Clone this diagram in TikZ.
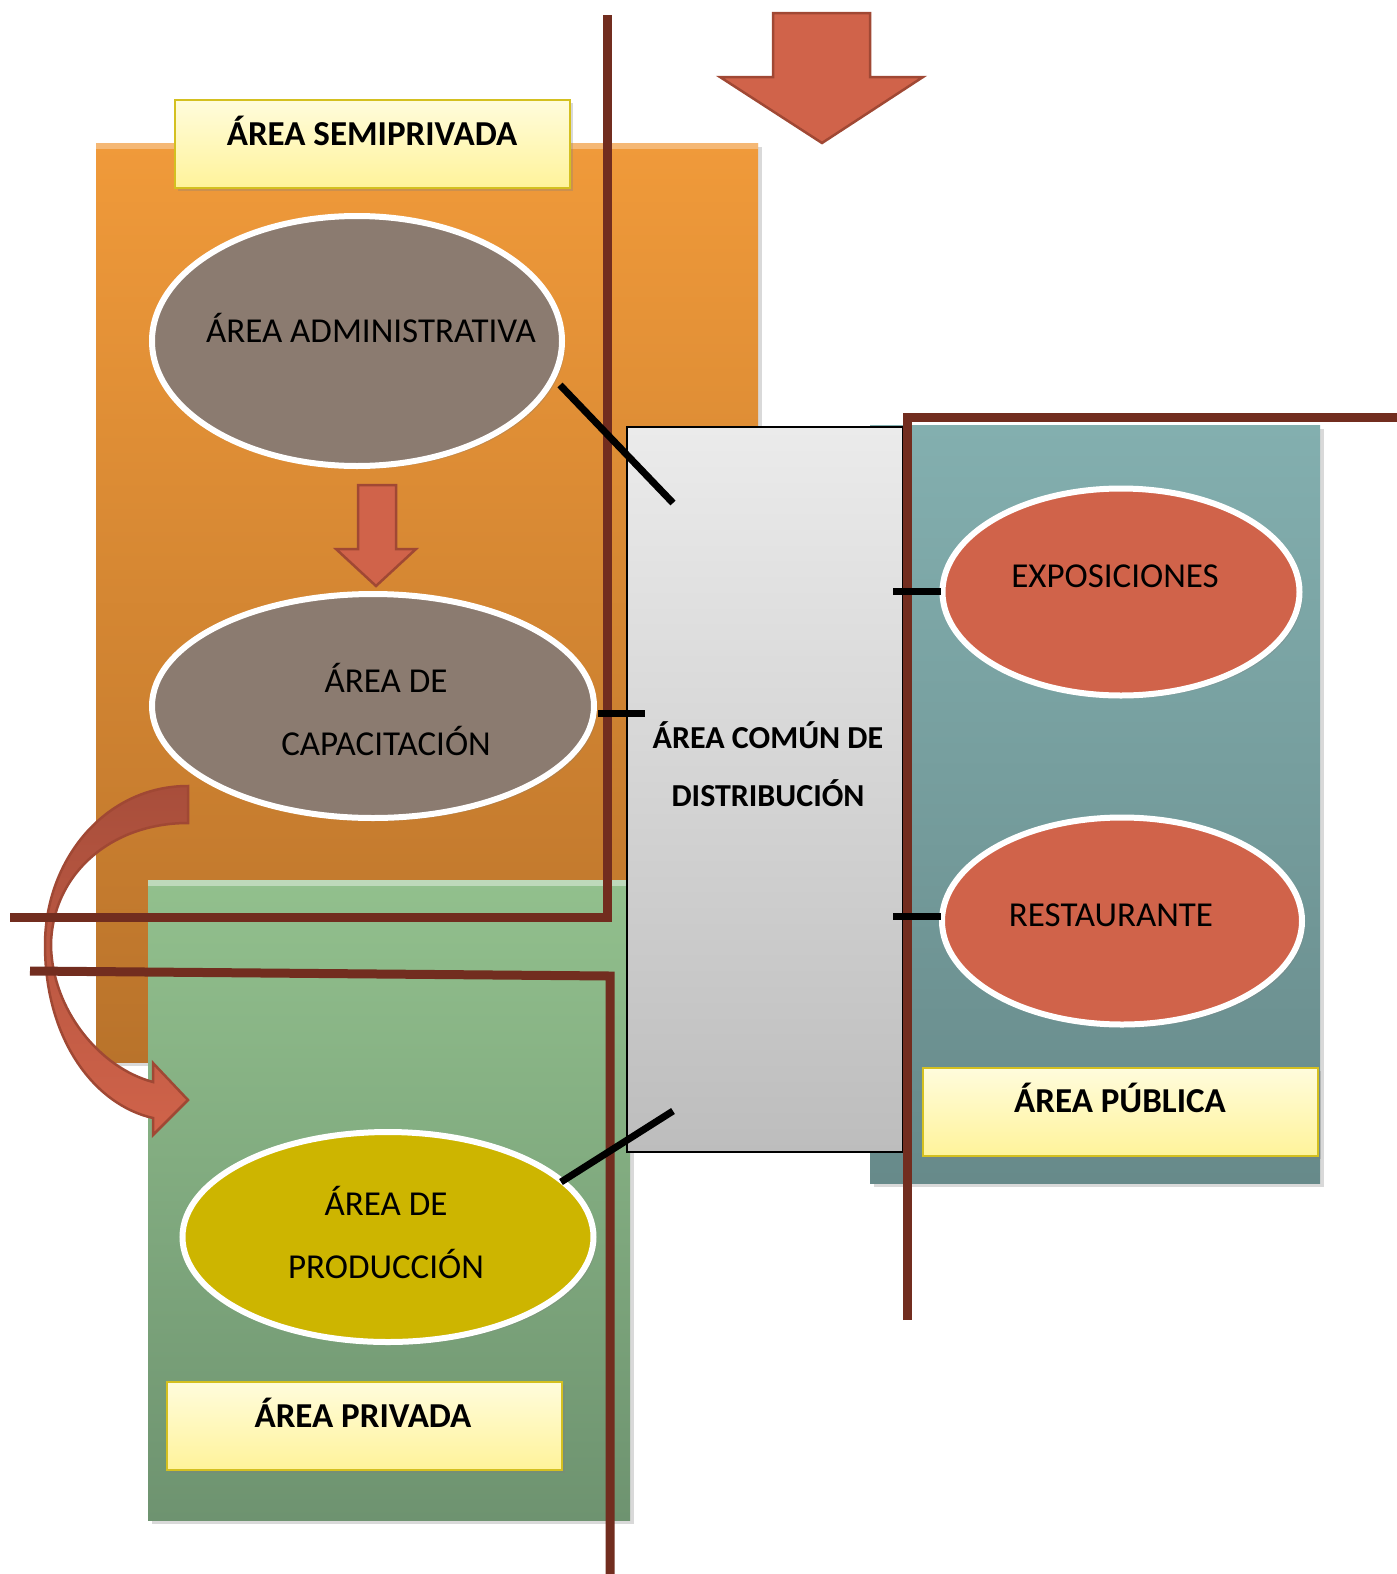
\documentclass[tikz,border=0pt]{standalone}
\usepackage{fontspec}
\setmainfont{Carlito}
\usetikzlibrary{shapes.geometric,shadows}
\definecolor{orTop}{HTML}{F09A3A}
\definecolor{orBot}{HTML}{B9732B}
\definecolor{grTop}{HTML}{92C08D}
\definecolor{grBot}{HTML}{6E9370}
\definecolor{tlTop}{HTML}{83AFAF}
\definecolor{tlBot}{HTML}{678A8A}
\definecolor{gyTop}{HTML}{EBEBEB}
\definecolor{gyBot}{HTML}{BDBDBD}
\definecolor{lbTop}{HTML}{FFFCDC}
\definecolor{lbBot}{HTML}{FFF39A}
\definecolor{lbBorder}{HTML}{D4C020}
\definecolor{elBrown}{HTML}{8B7B70}
\definecolor{elRed}{HTML}{D0634A}
\definecolor{elYellow}{HTML}{CDB500}
\definecolor{wallBrown}{HTML}{722D1F}
\definecolor{arrFill}{HTML}{D0634A}
\definecolor{arrTop}{HTML}{A84E3B}
\definecolor{arrBorder}{HTML}{A04834}
\begin{document}
\begin{tikzpicture}[x=1pt,y=-1pt,
  zone/.style={rectangle,inner sep=0pt,outer sep=0pt,
    drop shadow={shadow xshift=4pt,shadow yshift=-4pt,opacity=0.3}},
  labelbox/.style={rectangle,inner sep=0pt,outer sep=0pt,draw=lbBorder,line width=2pt,
    top color=lbTop,bottom color=lbBot,minimum width=395,minimum height=88,
    drop shadow={shadow xshift=3pt,shadow yshift=-3pt,opacity=0.3}},
  oval/.style={ellipse,inner sep=0pt,outer sep=0pt,draw=white,line width=6pt,
    drop shadow={shadow xshift=3pt,shadow yshift=-3pt,opacity=0.3}},
  txt/.style={inner sep=0pt,anchor=base,font=\fontsize{35}{40}\selectfont},
  btxt/.style={inner sep=0pt,anchor=base,font=\fontsize{35}{40}\selectfont\bfseries},
  ctxt/.style={inner sep=0pt,anchor=base,font=\fontsize{32}{37}\selectfont\bfseries},
  wall/.style={draw=wallBrown,line width=9pt,line join=miter},
  conn/.style={draw=black,line width=7pt},
  blockarrow/.style={fill=arrFill,draw=arrBorder,line width=2.5pt,line join=miter}
]
\useasboundingbox (0,0) rectangle (1397,1574);

% zones
\node[zone,top color=orTop,bottom color=orBot,minimum width=662,minimum height=919] (orange) at (427,602.5) {};
\fill[orTop!70!white] (orange.north west) rectangle ([yshift=-6pt]orange.north east);
\node[zone,top color=grTop,bottom color=grBot,minimum width=482,minimum height=640] (green) at (389,1200) {};
\fill[grTop!60!white] (green.north west) rectangle ([yshift=-6pt]green.north east);
\node[zone,top color=tlTop,bottom color=tlBot,minimum width=450,minimum height=758] (teal) at (1095,804) {};
\node[rectangle,inner sep=0pt,outer sep=0pt,draw=black,line width=1.5pt,top color=gyTop,bottom color=gyBot,
  minimum width=276,minimum height=725] (common) at (765,789.5) {};

% curved arrow
\path[top color=arrTop,bottom color=arrFill,draw=arrBorder,line width=2.5pt,line join=miter]
  (188,786) .. controls (105,786) and (45,860) .. (45,945)
  .. controls (45,1040) and (95,1105) .. (153,1118)
  -- (153,1135) -- (188,1100) -- (153,1063) -- (153,1082)
  .. controls (100,1068) and (52,1010) .. (51,945)
  .. controls (52,875) and (110,823) .. (188,823) -- cycle;

% small arrow
\draw[blockarrow] (358,485) -- (396,485) -- (396,549) -- (416,549) -- (376,586) -- (336,549) -- (358,549) -- cycle;
% big arrow
\draw[blockarrow] (773,13) -- (870,13) -- (870,77) -- (923,77) -- (822,143) -- (720,77) -- (773,77) -- cycle;

% label boxes
\node[labelbox] (lsemi) at (372,144) {};
\node[btxt] (tsemi) at (372,145) {ÁREA SEMIPRIVADA};
\node[labelbox] (lpub) at (1120,1112) {};
\node[btxt] (tpub) at (1120,1112) {ÁREA PÚBLICA};
\node[labelbox] (lpriv) at (364,1426) {};
\node[btxt] (tpriv) at (363,1427) {ÁREA PRIVADA};

% ellipses
\node[oval,fill=elBrown,minimum width=410,minimum height=250] (adm) at (357,341) {};
\node[txt] (tadm) at (371,342) {ÁREA ADMINISTRATIVA};
\node[oval,fill=elBrown,minimum width=442,minimum height=224] (cap) at (373,706) {};
\node[txt] (tcap1) at (386,692) {ÁREA DE};
\node[txt] (tcap2) at (386,755) {CAPACITACIÓN};
\node[oval,fill=elRed,minimum width=357,minimum height=207] (expo) at (1121,592) {};
\node[txt] (texpo) at (1115,587) {EXPOSICIONES};
\node[oval,fill=elRed,minimum width=360,minimum height=207] (rest) at (1122,921) {};
\node[txt] (trest) at (1111,926) {RESTAURANTE};
\node[oval,fill=elYellow,minimum width=411,minimum height=210] (prod) at (388,1237) {};
\node[txt] (tprod1) at (386,1215) {ÁREA DE};
\node[txt] (tprod2) at (386,1278) {PRODUCCIÓN};

% common area text
\node[ctxt] (tcom1) at (768,748) {ÁREA COMÚN DE};
\node[ctxt] (tcom2) at (768,806) {DISTRIBUCIÓN};

% walls
\coordinate (w1a) at (607,15);
\coordinate (w1b) at (607,917);
\coordinate (w1c) at (10,917);
\draw[wall] (w1a) -- (w1b) -- (w1c);
\coordinate (w2a) at (30,971);
\coordinate (w2b) at (610,976);
\coordinate (w2c) at (610,1574);
\draw[wall] (w2a) -- (w2b) -- (w2c);
\coordinate (w3a) at (907,1320);
\coordinate (w3b) at (907,417);
\coordinate (w3c) at (1397,417);
\draw[wall] (w3a) -- (w3b) -- (w3c);

% connectors
\coordinate (c1) at (673,503);
\coordinate (c2) at (645,713);
\coordinate (c3) at (893,591);
\coordinate (c4) at (893,916);
\coordinate (c5) at (673,1111);
\coordinate (a1) at (560,385);
\coordinate (a2) at (598,713);
\coordinate (a3) at (941,591);
\coordinate (a4) at (941,916);
\coordinate (a5) at (561,1182);
\draw[conn] (a1) -- (c1);
\draw[conn] (a2) -- (c2);
\draw[conn] (c3) -- (a3);
\draw[conn] (c4) -- (a4);
\draw[conn] (c5) -- (a5);
\end{tikzpicture}
\end{document}
